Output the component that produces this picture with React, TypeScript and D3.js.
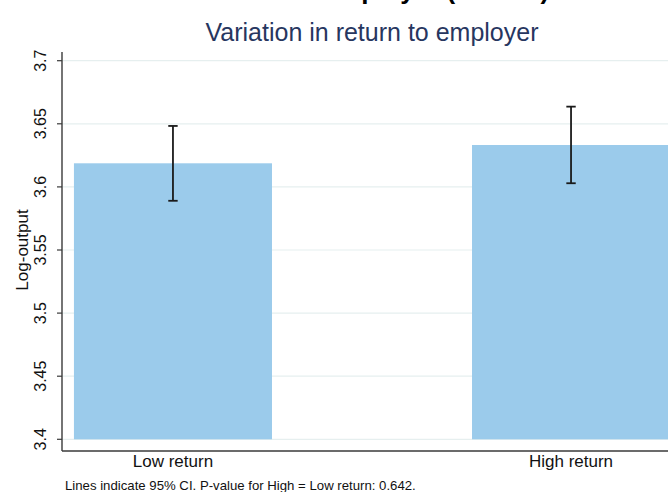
import React from "react";
import * as d3 from "d3";

const categories = ["Low return", "High return"];
const means = [3.6187, 3.6332];
const ciLow = [3.589, 3.6029];
const ciHigh = [3.6483, 3.6636];
const yTicks = [3.4, 3.45, 3.5, 3.55, 3.6, 3.65, 3.7];
const yTickLabels = ["3.4", "3.45", "3.5", "3.55", "3.6", "3.65", "3.7"];
const titleText = "Return to employer (France)";
const subtitleText = "Variation in return to employer";
const yTitle = "Log-output";
const noteText = "Lines indicate 95% CI. P-value for High = Low return: 0.642.";

const W = 668;
const H = 492;
const FONT = "'Liberation Sans', Arial, Helvetica, sans-serif";

export default function App() {
  const y = d3.scaleLinear().domain([3.4, 3.7]).range([439.3, 60.7]);
  const x = d3
    .scaleBand<string>()
    .domain(categories)
    .range([62, 682])
    .paddingInner(0.5025)
    .paddingOuter(0.03);
  const axisX = 62;
  const axisY = 451;
  const plotTop = 52;
  const bw = x.bandwidth();

  return (
    <div style={{ position: "fixed", left: 0, top: 0, width: W, height: H, overflow: "hidden", background: "#fff" }}>
      <svg width={W} height={H} style={{ display: "block", overflow: "hidden" }} fontFamily={FONT}>
        <rect x={0} y={0} width={W} height={H} fill="#ffffff" />
        {/* title (cut off at the top edge, as in the source image) */}
        <text x={375} y={-1.5} textAnchor="middle" fontSize={26} fontWeight="bold" fill="#000">
          {titleText}
        </text>
        <text x={372} y={41} textAnchor="middle" fontSize={25} fill="#27365f">
          {subtitleText}
        </text>
        {/* gridlines */}
        {yTicks.map((t, i) => (
          <line key={"g" + i} x1={axisX} x2={W + 20} y1={y(t)} y2={y(t)} stroke="#e6efef" strokeWidth={1.2} />
        ))}
        {/* bars */}
        {categories.map((c, i) => (
          <rect key={"b" + i} x={x(c)} y={y(means[i])} width={bw} height={y(3.4) - y(means[i])} fill="#9bcbeb" />
        ))}
        {/* error bars */}
        {categories.map((c, i) => {
          const cx = (x(c) as number) + bw / 2;
          return (
            <g key={"e" + i} stroke="#1a1a1a" strokeWidth={1.8}>
              <line x1={cx} x2={cx} y1={y(ciLow[i])} y2={y(ciHigh[i])} />
              <line x1={cx - 4.7} x2={cx + 4.7} y1={y(ciLow[i])} y2={y(ciLow[i])} />
              <line x1={cx - 4.7} x2={cx + 4.7} y1={y(ciHigh[i])} y2={y(ciHigh[i])} />
            </g>
          );
        })}
        {/* axes */}
        <line x1={axisX} x2={axisX} y1={plotTop} y2={axisY} stroke="#3a3a3a" strokeWidth={1.4} />
        <line x1={axisX} x2={W + 20} y1={axisY} y2={axisY} stroke="#3a3a3a" strokeWidth={1.4} />
        {yTicks.map((t, i) => (
          <g key={"t" + i}>
            <line x1={axisX - 5} x2={axisX} y1={y(t)} y2={y(t)} stroke="#3a3a3a" strokeWidth={1.2} />
            <text
              transform={`translate(${46},${y(t)}) rotate(-90)`}
              textAnchor="middle"
              fontSize={16}
              fill="#111"
            >
              {yTickLabels[i]}
            </text>
          </g>
        ))}
        <text transform={`translate(${28},${250}) rotate(-90)`} textAnchor="middle" fontSize={17} fill="#111">
          {yTitle}
        </text>
        {categories.map((c, i) => (
          <text key={"x" + i} x={(x(c) as number) + bw / 2} y={467} textAnchor="middle" fontSize={17} fill="#111">
            {c}
          </text>
        ))}
        <text x={65} y={490} fontSize={13.2} fill="#111">
          {noteText}
        </text>
      </svg>
    </div>
  );
}
